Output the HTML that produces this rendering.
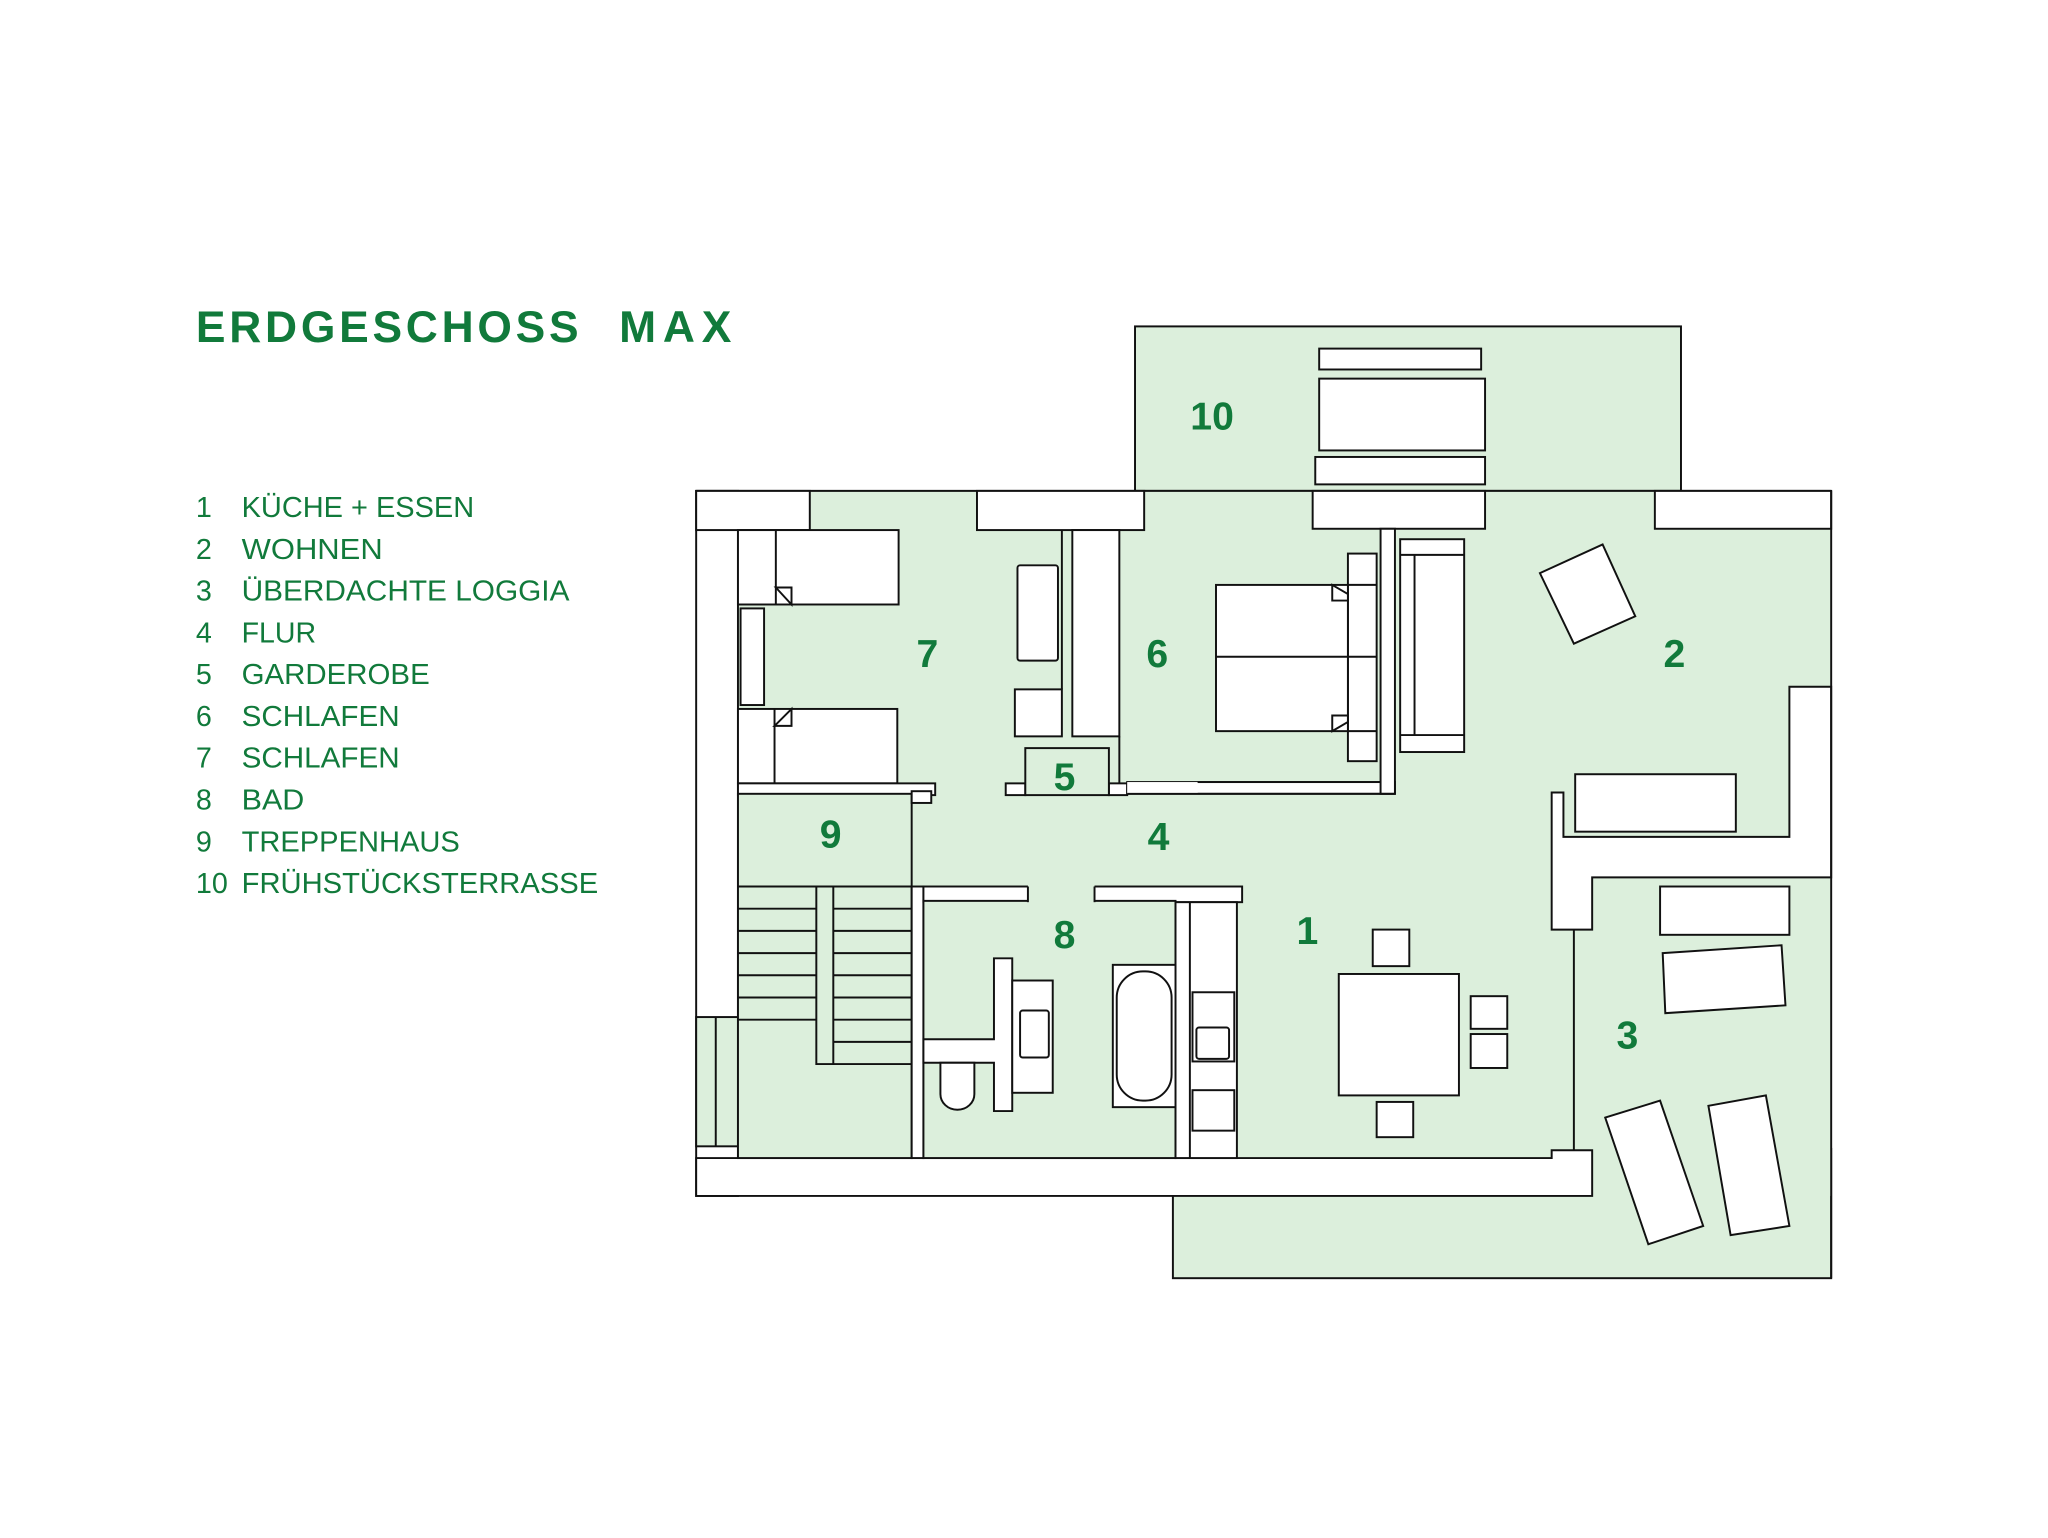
<!DOCTYPE html>
<html><head><meta charset="utf-8"><style>
html,body{margin:0;padding:0;background:#fff;}
svg{display:block;}
</style></head><body>
<svg width="2048" height="1538" viewBox="0 0 1568 1178" preserveAspectRatio="none" xmlns="http://www.w3.org/2000/svg">
<rect x="0" y="0" width="1568" height="1178" fill="#fff"/>
<g font-family="Liberation Sans, sans-serif" fill="#117a3b">
<text x="150" y="262" font-size="34" font-weight="bold" textLength="293" lengthAdjust="spacing">ERDGESCHOSS</text>
<text x="474" y="262" font-size="34" font-weight="bold" textLength="86" lengthAdjust="spacing">MAX</text>
<g font-size="22">
<text x="150" y="396">1</text><text x="185" y="396" textLength="178" lengthAdjust="spacingAndGlyphs">KÜCHE + ESSEN</text>
<text x="150" y="428">2</text><text x="185" y="428" textLength="108" lengthAdjust="spacingAndGlyphs">WOHNEN</text>
<text x="150" y="460">3</text><text x="185" y="460" textLength="251" lengthAdjust="spacingAndGlyphs">ÜBERDACHTE LOGGIA</text>
<text x="150" y="492">4</text><text x="185" y="492" textLength="57" lengthAdjust="spacingAndGlyphs">FLUR</text>
<text x="150" y="524">5</text><text x="185" y="524" textLength="144" lengthAdjust="spacingAndGlyphs">GARDEROBE</text>
<text x="150" y="556">6</text><text x="185" y="556" textLength="121" lengthAdjust="spacingAndGlyphs">SCHLAFEN</text>
<text x="150" y="588">7</text><text x="185" y="588" textLength="121" lengthAdjust="spacingAndGlyphs">SCHLAFEN</text>
<text x="150" y="620">8</text><text x="185" y="620" textLength="48" lengthAdjust="spacingAndGlyphs">BAD</text>
<text x="150" y="652">9</text><text x="185" y="652" textLength="167" lengthAdjust="spacingAndGlyphs">TREPPENHAUS</text>
<text x="150" y="684">10</text><text x="185" y="684" textLength="273" lengthAdjust="spacingAndGlyphs">FRÜHSTÜCKSTERRASSE</text>
</g>
</g>

<g stroke="#111" stroke-width="1.5" fill="#fff">
<rect x="869" y="250" width="418" height="126" fill="#dcefdc"/>
<rect x="898" y="880" width="504" height="99" fill="#dcefdc"/>
<rect x="533" y="376" width="869" height="540" fill="#dcefdc" stroke="none"/>
<line x1="533" y1="376" x2="1402" y2="376"/>

<rect x="1010" y="267" width="124" height="16"/>
<rect x="1010" y="290" width="127" height="55"/>
<rect x="1007" y="350" width="130" height="21"/>

<rect x="533" y="376" width="32" height="540"/>
<rect x="533" y="779" width="32" height="99" fill="#dcefdc"/>
<line x1="548" y1="779" x2="548" y2="878"/>
<rect x="533" y="376" width="87" height="30"/>
<rect x="748" y="376" width="128" height="30"/>
<rect x="1005" y="376" width="132" height="29"/>
<rect x="1267" y="376" width="135" height="29"/>
<polygon points="533,887 1188,887 1188,881 1219,881 1219,916 533,916"/>
<polygon points="1188,607 1197,607 1197,641 1370,641 1370,526 1402,526 1402,672 1219,672 1219,712 1188,712"/>
<line x1="1402" y1="376" x2="1402" y2="979"/>
<line x1="1205" y1="712" x2="1205" y2="881"/>

<rect x="565" y="406" width="123" height="57"/>
<line x1="594" y1="406" x2="594" y2="463"/>
<polygon points="594,450 606,450 606,463" />
<rect x="567" y="466" width="18" height="74"/>
<rect x="565" y="543" width="122" height="57"/>
<line x1="593" y1="543" x2="593" y2="600"/>
<polygon points="593,556 606,543 606,556"/>
<rect x="779" y="433" width="31" height="73" rx="2"/>
<rect x="777" y="528" width="36" height="36"/>
<line x1="813" y1="406" x2="813" y2="528"/>
<rect x="821" y="406" width="36" height="158"/>
<line x1="857" y1="564" x2="857" y2="609"/>
<rect x="565" y="600" width="151" height="9"/>
<rect x="770" y="600" width="15" height="9"/>
<rect x="849" y="600" width="14" height="9"/>
<rect x="785" y="573" width="64" height="36" fill="#dcefdc"/>

<rect x="863" y="599" width="205" height="9"/>
<rect x="1057" y="405" width="11" height="203"/>
<rect x="863" y="599" width="54" height="9" stroke="none"/>
<line x1="863" y1="608" x2="1068" y2="608"/>
<line x1="917" y1="599" x2="1057" y2="599"/>
<rect x="1032" y="424" width="22" height="159"/>
<line x1="1032" y1="448" x2="1054" y2="448"/>
<line x1="1032" y1="560" x2="1054" y2="560"/>
<rect x="931" y="448" width="101" height="112"/>
<line x1="931" y1="503" x2="1054" y2="503"/>
<polygon points="1020,448 1032,455 1032,460 1020,460"/>
<polygon points="1020,548 1032,548 1032,553 1020,560"/>

<rect x="1072" y="413" width="49" height="163"/>
<line x1="1083" y1="425" x2="1083" y2="563"/>
<line x1="1072" y1="425" x2="1121" y2="425"/>
<line x1="1072" y1="563" x2="1121" y2="563"/>
<polygon points="1179,439 1227,417 1252,472 1205,493"/>
<rect x="1206" y="593" width="123" height="44"/>

<rect x="565" y="608" width="133" height="279" fill="#dcefdc"/>
<line x1="565" y1="679" x2="698" y2="679"/>
<line x1="565" y1="696" x2="625" y2="696"/><line x1="565" y1="713" x2="625" y2="713"/>
<line x1="565" y1="730" x2="625" y2="730"/><line x1="565" y1="747" x2="625" y2="747"/>
<line x1="565" y1="764" x2="625" y2="764"/><line x1="565" y1="781" x2="625" y2="781"/>
<line x1="638" y1="696" x2="698" y2="696"/><line x1="638" y1="713" x2="698" y2="713"/>
<line x1="638" y1="730" x2="698" y2="730"/><line x1="638" y1="747" x2="698" y2="747"/>
<line x1="638" y1="764" x2="698" y2="764"/><line x1="638" y1="781" x2="698" y2="781"/>
<line x1="638" y1="798" x2="698" y2="798"/>
<polyline points="625,679 625,815 698,815" fill="none"/>
<line x1="638" y1="679" x2="638" y2="815"/>
<rect x="698" y="606" width="15" height="9"/>

<rect x="698" y="679" width="9" height="208"/>
<rect x="707" y="679" width="244" height="12"/>
<rect x="707" y="690" width="193" height="197" fill="#dcefdc"/>
<rect x="787" y="678" width="51" height="13" fill="#dcefdc" stroke="none"/>
<line x1="787" y1="679" x2="787" y2="691"/><line x1="838" y1="679" x2="838" y2="691"/>
<rect x="900" y="691" width="47" height="196"/>
<line x1="911" y1="691" x2="911" y2="887"/>
<rect x="913" y="760" width="32" height="53"/>
<rect x="916" y="787" width="25" height="24" rx="2"/>
<rect x="913" y="835" width="32" height="31"/>

<polygon points="761,734 775,734 775,851 761,851 761,814 707,814 707,796 761,796" />
<rect x="775" y="751" width="31" height="86"/>
<rect x="781" y="774" width="22" height="36" rx="2"/>
<path d="M720,814 L746,814 L746,838 A13,12 0 0 1 720,838 Z"/>
<rect x="852" y="739" width="48" height="109"/>
<rect x="855" y="744" width="42" height="99" rx="20"/>

<rect x="1025" y="746" width="92" height="93"/>
<rect x="1051" y="712" width="28" height="28"/>
<rect x="1126" y="763" width="28" height="25"/>
<rect x="1126" y="792" width="28" height="26"/>
<rect x="1054" y="844" width="28" height="27"/>

<rect x="1271" y="679" width="99" height="37"/>
<polygon points="1273,730 1364,724 1367,770 1275,776"/>
<polygon points="1229,856 1271,843 1304,939 1262,953"/>
<polygon points="1308,847 1352,839 1370,939 1325,946"/>
</g>

<g font-family="Liberation Sans, sans-serif" fill="#117a3b" font-size="30" font-weight="bold" text-anchor="middle">
<text x="928" y="329">10</text>
<text x="710" y="511">7</text>
<text x="886" y="511">6</text>
<text x="1282" y="511">2</text>
<text x="815" y="605">5</text>
<text x="636" y="649">9</text>
<text x="887" y="651">4</text>
<text x="1001" y="723">1</text>
<text x="815" y="726">8</text>
<text x="1246" y="803">3</text>
</g>
</svg>
</body></html>
